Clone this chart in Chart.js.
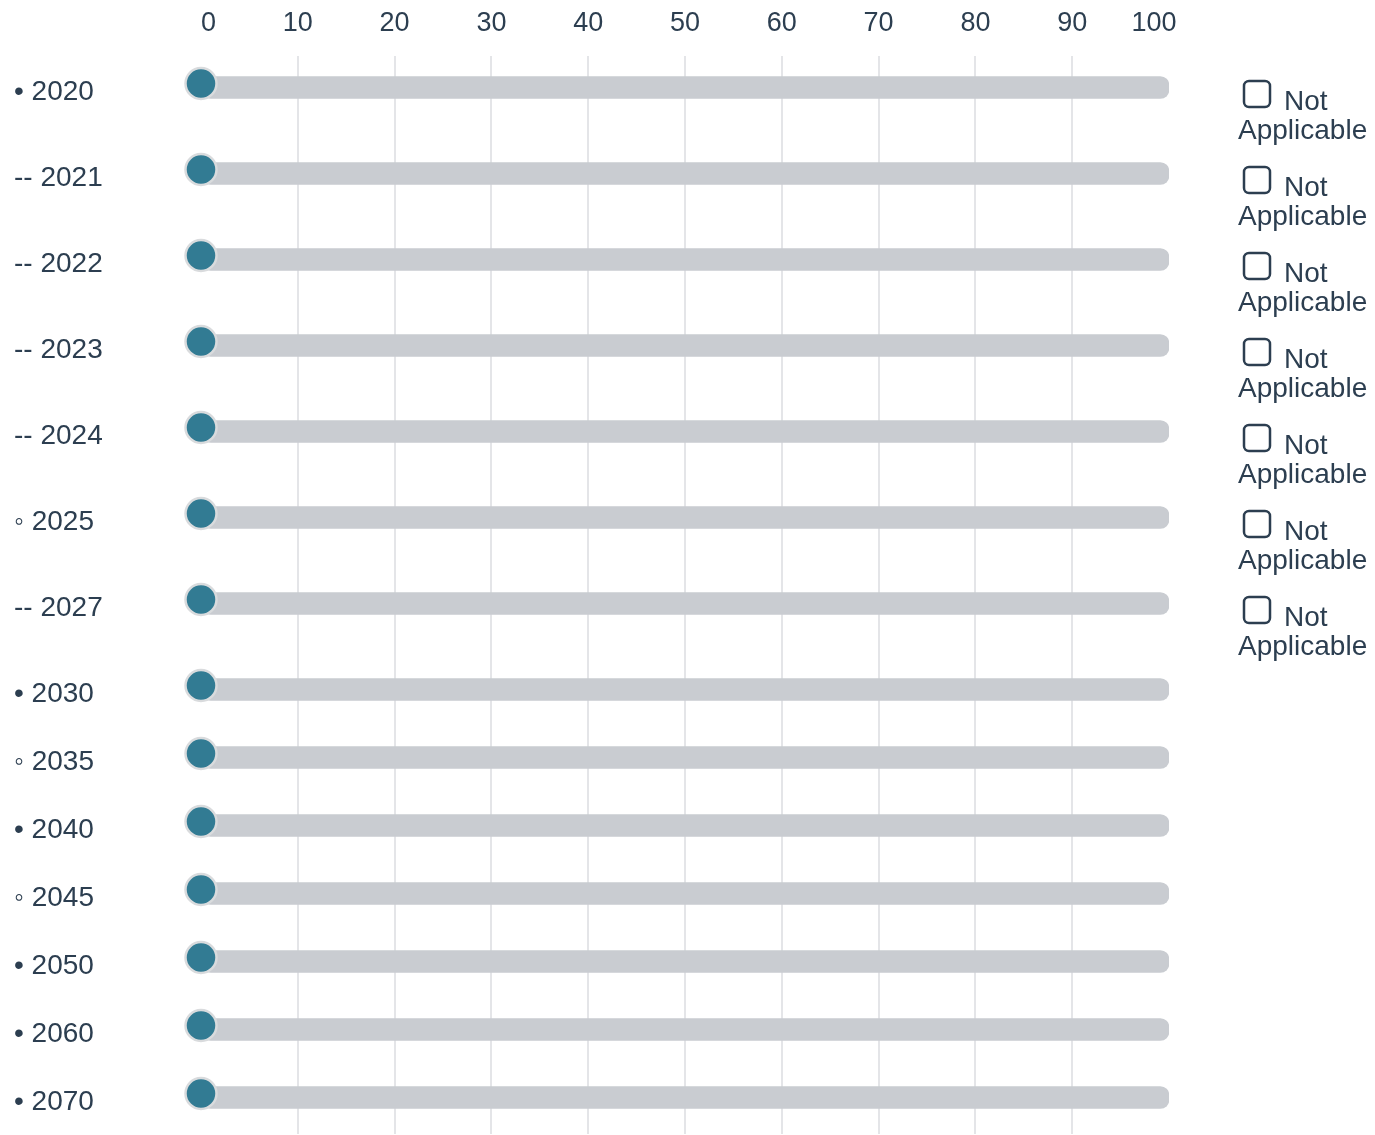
<!DOCTYPE html>
<html>
<head>
<meta charset="utf-8">
<script src="https://cdn.jsdelivr.net/npm/chart.js@4.4.1/dist/chart.umd.min.js"></script>
<style>
  html, body { margin: 0; padding: 0; background: #fff; }
  #wrap { width: 1375px; height: 1135px; }
</style>
</head>
<body>
<div id="wrap"><canvas id="sliderChart"></canvas></div>
<script>
// Row labels (prefix marks kept as in the source)
const rowLabels = ['• 2020', '-- 2021', '-- 2022', '-- 2023', '-- 2024', '◦ 2025', '-- 2027',
  '• 2030', '◦ 2035', '• 2040', '◦ 2045', '• 2050', '• 2060', '• 2070'];
// Slider values (all at zero) and track range
const sliderValues = [0, 0, 0, 0, 0, 0, 0, 0, 0, 0, 0, 0, 0, 0];
const trackMin = 0;
const trackMax = 100;
// Rows that carry a "Not Applicable" checkbox
const notApplicable = [true, true, true, true, true, true, true,
  false, false, false, false, false, false, false];
const xTicks = [0, 10, 20, 30, 40, 50, 60, 70, 80, 90, 100];

const textColor = '#2c3e50';
const fontFamily = '"Liberation Sans", Arial, Helvetica, sans-serif';

// rows with a checkbox are taller
const rowTops = [];
let acc = 0;
notApplicable.forEach(na => { rowTops.push(acc); acc += na ? 86 : 68; });
const totalHeight = acc;
const trackPos = rowTops.map(t => t + 31.5);
const pointPos = rowTops.map(t => t + 27.5);
const labelPos = rowTops.map(t => t + 36.5);

const checkboxPlugin = {
  id: 'checkboxes',
  afterDraw(chart) {
    const ctx = chart.ctx;
    const yScale = chart.scales.y;
    const left = chart.chartArea.right;
    ctx.save();
    ctx.font = '28px ' + fontFamily;
    ctx.fillStyle = textColor;
    ctx.strokeStyle = textColor;
    ctx.lineWidth = 2.5;
    ctx.textBaseline = 'middle';
    ctx.textAlign = 'left';
    notApplicable.forEach((na, i) => {
      if (!na) return;
      const top = yScale.getPixelForValue(rowTops[i]);
      ctx.beginPath();
      ctx.roundRect(left + 75, top + 25, 26, 26, 5);
      ctx.stroke();
      ctx.fillText('Not', left + 115, top + 46);
      ctx.fillText('Applicable', left + 69, top + 75);
    });
    ctx.restore();
  }
};

const ctx = document.getElementById('sliderChart').getContext('2d');
const sliderChart = new Chart(ctx, {
  type: 'bar',
  data: {
    datasets: [{
      type: 'scatter',
      order: 0,
      clip: false,
      data: sliderValues.map((v, i) => ({ x: v, y: pointPos[i] })),
      pointRadius: 15.5,
      pointHoverRadius: 15.5,
      backgroundColor: '#327b93',
      borderColor: '#d9dbdd',
      borderWidth: 2.5
    }, {
      type: 'bar',
      order: 1,
      indexAxis: 'y',
      data: trackPos.map(p => ({ x: [trackMin, trackMax], y: p })),
      backgroundColor: '#c9ccd1',
      barThickness: 22,
      borderRadius: 9,
      borderSkipped: false
    }]
  },
  options: {
    responsive: true,
    maintainAspectRatio: false,
    animation: false,
    layout: { autoPadding: false, padding: { left: 14, right: 206, top: 0, bottom: 1 } },
    plugins: { legend: { display: false }, tooltip: { enabled: false } },
    scales: {
      x: {
        type: 'linear',
        position: 'top',
        min: 0,
        max: 100,
        offset: false,
        afterBuildTicks: scale => { scale.ticks = xTicks.map(v => ({ value: v })); },
        afterFit: scale => { scale.height = 56; },
        border: { display: false },
        grid: {
          offset: false,
          drawTicks: false,
          lineWidth: 2,
          color: c => (c.tick && (c.tick.value === 0 || c.tick.value === 100)) ? 'rgba(0,0,0,0)' : '#e4e5e8'
        },
        ticks: {
          padding: 16,
          autoSkip: false,
          maxRotation: 0,
          color: textColor,
          font: { family: fontFamily, size: 27 },
          // end labels sit slightly inside the track ends
          callback: v => v === 0 ? '  0' : (v === 100 ? '100    ' : String(v))
        }
      },
      y: {
        type: 'linear',
        reverse: true,
        min: 0,
        max: totalHeight,
        offset: false,
        afterBuildTicks: scale => { scale.ticks = labelPos.map(v => ({ value: v })); },
        afterFit: scale => {
          scale.width = 187;
          scale.paddingTop = 0;
          scale.paddingBottom = 0;
        },
        border: { display: false },
        grid: { display: false, offset: false },
        ticks: {
          autoSkip: false,
          crossAlign: 'far',
          padding: 0,
          color: textColor,
          font: { family: fontFamily, size: 28 },
          callback: (v, i) => rowLabels[i]
        }
      }
    }
  },
  plugins: [checkboxPlugin]
});
</script>
</body>
</html>
